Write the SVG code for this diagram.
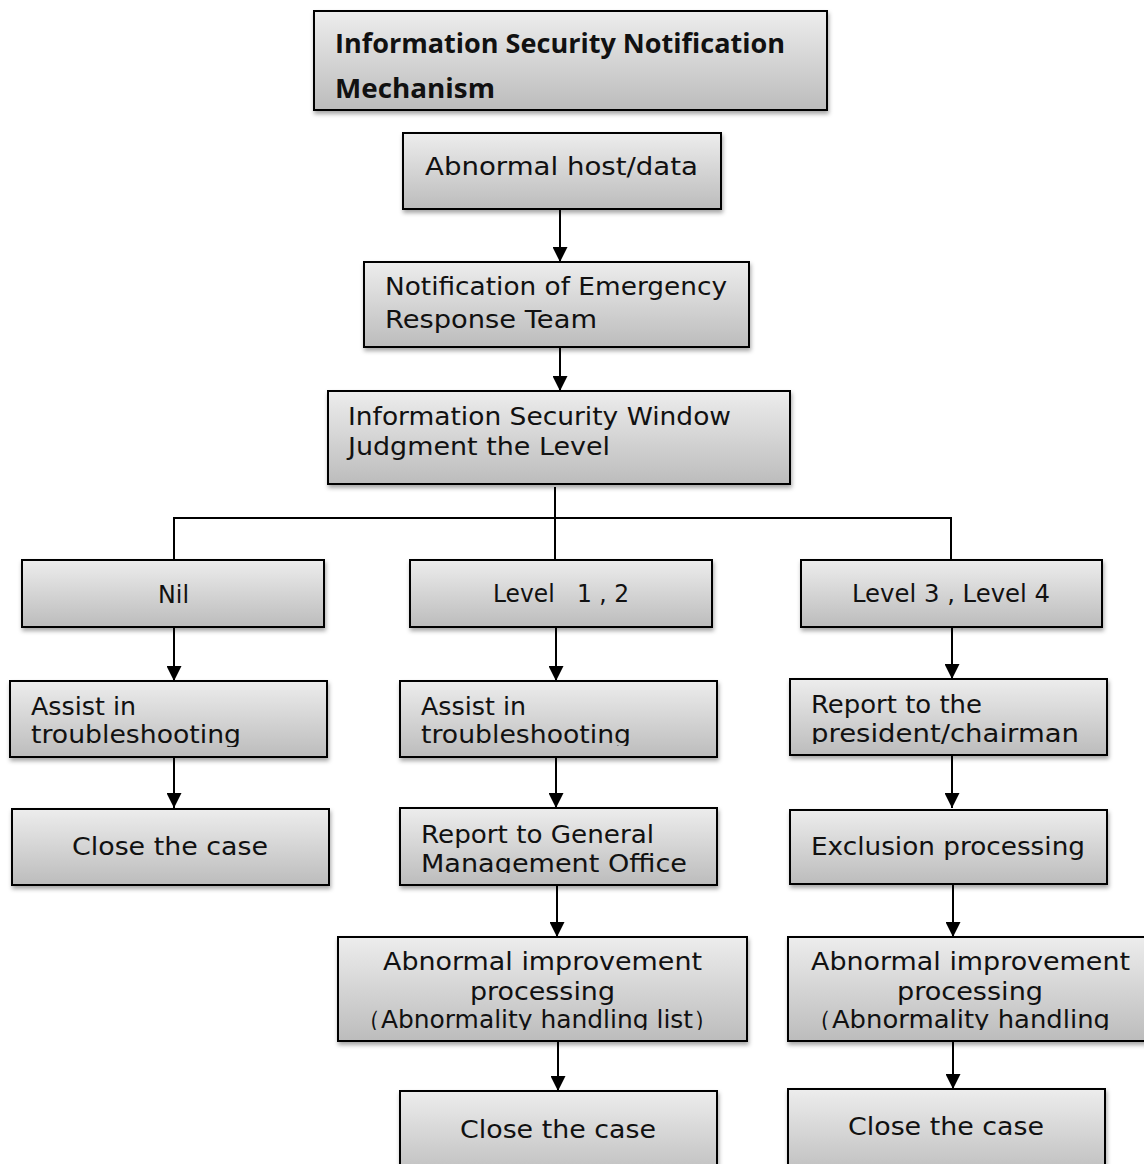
<svg xmlns="http://www.w3.org/2000/svg" width="1144" height="1164" viewBox="0 0 1144 1164">
<style>
.box{fill:url(#g);stroke:#000;stroke-width:2;filter:url(#sh)}
.t{font-family:"DejaVu Sans","Liberation Sans",sans-serif;font-size:25px;fill:#111}
.tb{font-family:"Open Sans","Liberation Sans",sans-serif;font-size:26px;font-weight:bold;fill:#111}
.ln{stroke:#000;stroke-width:2;fill:none}
</style>
<defs>
<linearGradient id="g" x1="0" y1="0" x2="0" y2="1">
<stop offset="0" stop-color="#ededed"/>
<stop offset="1" stop-color="#bcbcbc"/>
</linearGradient>
<filter id="sh" x="-5%" y="-10%" width="115%" height="130%">
<feDropShadow dx="1" dy="3" stdDeviation="2" flood-color="#000" flood-opacity="0.35"/>
</filter>
<marker id="ah" viewBox="0 0 10 10" refX="10" refY="5" markerWidth="15" markerHeight="15" markerUnits="userSpaceOnUse" orient="auto">
<path d="M0,0 L10,5 L0,10 z" fill="#000"/>
</marker>
<clipPath id="c1"><rect x="10" y="681" width="317" height="66"/></clipPath>
<clipPath id="c2"><rect x="400" y="681" width="317" height="65"/></clipPath>
<clipPath id="c3"><rect x="790" y="679" width="317" height="65"/></clipPath>
<clipPath id="c4"><rect x="400" y="808" width="317" height="65"/></clipPath>
<clipPath id="c5"><rect x="338" y="937" width="409" height="93"/></clipPath>
<clipPath id="c6"><rect x="788" y="937" width="356" height="93"/></clipPath>
</defs>
<rect width="1144" height="1164" fill="#fff"/>

<g id="connectors">
<line class="ln" x1="560" y1="209" x2="560" y2="262" marker-end="url(#ah)"/>
<line class="ln" x1="560" y1="347" x2="560" y2="391" marker-end="url(#ah)"/>
<line class="ln" x1="555" y1="487" x2="555" y2="560"/>
<polyline class="ln" points="174,560 174,518 951,518 951,560"/>
<line class="ln" x1="174" y1="627" x2="174" y2="681" marker-end="url(#ah)"/>
<line class="ln" x1="556" y1="627" x2="556" y2="681" marker-end="url(#ah)"/>
<line class="ln" x1="952" y1="627" x2="952" y2="679" marker-end="url(#ah)"/>
<line class="ln" x1="174" y1="757" x2="174" y2="808" marker-end="url(#ah)"/>
<line class="ln" x1="556" y1="757" x2="556" y2="808" marker-end="url(#ah)"/>
<line class="ln" x1="952" y1="755" x2="952" y2="808" marker-end="url(#ah)"/>
<line class="ln" x1="557" y1="885" x2="557" y2="937" marker-end="url(#ah)"/>
<line class="ln" x1="953" y1="884" x2="953" y2="937" marker-end="url(#ah)"/>
<line class="ln" x1="558" y1="1041" x2="558" y2="1091" marker-end="url(#ah)"/>
<line class="ln" x1="953" y1="1041" x2="953" y2="1089" marker-end="url(#ah)"/>
</g>

<g id="title"><rect class="box" x="314" y="11" width="513" height="99"/>
<text class="tb" x="335" y="53" textLength="450" lengthAdjust="spacingAndGlyphs">Information Security Notification</text>
<text class="tb" x="335" y="98" textLength="160" lengthAdjust="spacingAndGlyphs">Mechanism</text></g>

<g id="abnormal-host"><rect class="box" x="403" y="133" width="318" height="76"/>
<text class="t" x="425" y="175" textLength="273" lengthAdjust="spacingAndGlyphs">Abnormal host/data</text></g>

<g id="notify-ert"><rect class="box" x="364" y="262" width="385" height="85"/>
<text class="t" x="385" y="295" textLength="342" lengthAdjust="spacingAndGlyphs">Notification of Emergency</text>
<text class="t" x="385" y="328" textLength="212" lengthAdjust="spacingAndGlyphs">Response Team</text></g>

<g id="judge-level"><rect class="box" x="328" y="391" width="462" height="93"/>
<text class="t" x="348" y="425" textLength="383" lengthAdjust="spacingAndGlyphs">Information Security Window</text>
<text class="t" x="348" y="455" textLength="262" lengthAdjust="spacingAndGlyphs">Judgment the Level</text></g>

<g id="nil"><rect class="box" x="22" y="560" width="302" height="67"/>
<text class="t" x="158" y="603" textLength="31" lengthAdjust="spacingAndGlyphs">Nil</text></g>

<g id="level12"><rect class="box" x="410" y="560" width="302" height="67"/>
<text class="t" x="493" y="602" xml:space="preserve" textLength="136" lengthAdjust="spacingAndGlyphs">Level   1 , 2</text></g>

<g id="level34"><rect class="box" x="801" y="560" width="301" height="67"/>
<text class="t" x="852" y="602" textLength="198" lengthAdjust="spacingAndGlyphs">Level 3 , Level 4</text></g>

<g id="assist-left"><rect class="box" x="10" y="681" width="317" height="76"/>
<g clip-path="url(#c1)"><text class="t" x="31" y="715" textLength="105" lengthAdjust="spacingAndGlyphs">Assist in</text>
<text class="t" x="31" y="743" textLength="210" lengthAdjust="spacingAndGlyphs">troubleshooting</text></g></g>

<g id="assist-mid"><rect class="box" x="400" y="681" width="317" height="76"/>
<g clip-path="url(#c2)"><text class="t" x="421" y="715" textLength="105" lengthAdjust="spacingAndGlyphs">Assist in</text>
<text class="t" x="421" y="743" textLength="210" lengthAdjust="spacingAndGlyphs">troubleshooting</text></g></g>

<g id="report-president"><rect class="box" x="790" y="679" width="317" height="76"/>
<g clip-path="url(#c3)"><text class="t" x="811" y="713" textLength="171" lengthAdjust="spacingAndGlyphs">Report to the</text>
<text class="t" x="811" y="742" textLength="268" lengthAdjust="spacingAndGlyphs">president/chairman</text></g></g>

<g id="close-left"><rect class="box" x="12" y="809" width="317" height="76"/>
<text class="t" x="72" y="855" textLength="196" lengthAdjust="spacingAndGlyphs">Close the case</text></g>

<g id="report-gmo"><rect class="box" x="400" y="808" width="317" height="77"/>
<g clip-path="url(#c4)"><text class="t" x="421" y="843" textLength="233" lengthAdjust="spacingAndGlyphs">Report to General</text>
<text class="t" x="421" y="872" textLength="266" lengthAdjust="spacingAndGlyphs">Management Office</text></g></g>

<g id="exclusion"><rect class="box" x="790" y="810" width="317" height="74"/>
<text class="t" x="811" y="855" textLength="274" lengthAdjust="spacingAndGlyphs">Exclusion processing</text></g>

<g id="improve-mid"><rect class="box" x="338" y="937" width="409" height="104"/>
<g clip-path="url(#c5)"><text class="t" x="383" y="970" textLength="319" lengthAdjust="spacingAndGlyphs">Abnormal improvement</text>
<text class="t" x="470" y="1000" textLength="145" lengthAdjust="spacingAndGlyphs">processing</text>
<text class="t" x="356" y="1028" textLength="362" lengthAdjust="spacingAndGlyphs">（Abnormality handling list）</text></g></g>

<g id="improve-right"><rect class="box" x="788" y="937" width="370" height="104"/>
<g clip-path="url(#c6)"><text class="t" x="811" y="970" textLength="319" lengthAdjust="spacingAndGlyphs">Abnormal improvement</text>
<text class="t" x="897" y="1000" textLength="146" lengthAdjust="spacingAndGlyphs">processing</text>
<text class="t" x="806" y="1028" textLength="304" lengthAdjust="spacingAndGlyphs">（Abnormality handling</text></g></g>

<g id="close-mid"><rect class="box" x="400" y="1091" width="317" height="90"/>
<text class="t" x="460" y="1138" textLength="196" lengthAdjust="spacingAndGlyphs">Close the case</text></g>

<g id="close-right"><rect class="box" x="788" y="1089" width="317" height="90"/>
<text class="t" x="848" y="1135" textLength="196" lengthAdjust="spacingAndGlyphs">Close the case</text></g>
</svg>
